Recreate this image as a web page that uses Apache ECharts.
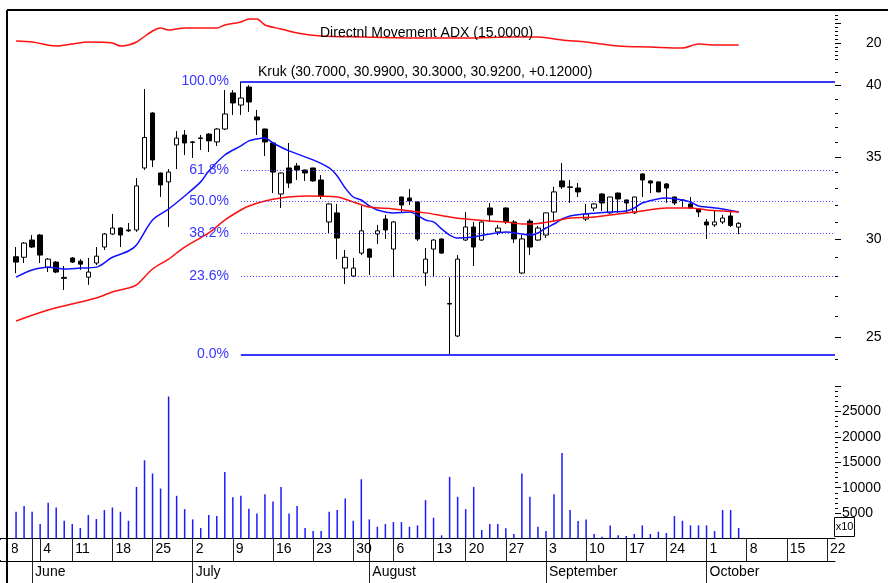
<!DOCTYPE html>
<html>
<head>
<meta charset="utf-8">
<script src="https://cdn.jsdelivr.net/npm/echarts@6/dist/echarts.min.js"></script>
<style>
  html, body { margin: 0; padding: 0; background: #fff; }
  #chart { width: 888px; height: 583px; }
</style>
</head>
<body>
<div id="chart"></div>
<script>
// trading days, Warsaw session (Jun 7 and Aug 15 closed)
const tradingDays = [
  '2012-05-28','2012-05-29','2012-05-30','2012-05-31','2012-06-01',
  '2012-06-04','2012-06-05','2012-06-06','2012-06-08',
  '2012-06-11','2012-06-12','2012-06-13','2012-06-14','2012-06-15',
  '2012-06-18','2012-06-19','2012-06-20','2012-06-21','2012-06-22',
  '2012-06-25','2012-06-26','2012-06-27','2012-06-28','2012-06-29',
  '2012-07-02','2012-07-03','2012-07-04','2012-07-05','2012-07-06',
  '2012-07-09','2012-07-10','2012-07-11','2012-07-12','2012-07-13',
  '2012-07-16','2012-07-17','2012-07-18','2012-07-19','2012-07-20',
  '2012-07-23','2012-07-24','2012-07-25','2012-07-26','2012-07-27',
  '2012-07-30','2012-07-31','2012-08-01','2012-08-02','2012-08-03',
  '2012-08-06','2012-08-07','2012-08-08','2012-08-09','2012-08-10',
  '2012-08-13','2012-08-14','2012-08-16','2012-08-17',
  '2012-08-20','2012-08-21','2012-08-22','2012-08-23','2012-08-24',
  '2012-08-27','2012-08-28','2012-08-29','2012-08-30','2012-08-31',
  '2012-09-03','2012-09-04','2012-09-05','2012-09-06','2012-09-07',
  '2012-09-10','2012-09-11','2012-09-12','2012-09-13','2012-09-14',
  '2012-09-17','2012-09-18','2012-09-19','2012-09-20','2012-09-21',
  '2012-09-24','2012-09-25','2012-09-26','2012-09-27','2012-09-28',
  '2012-10-01','2012-10-02','2012-10-03','2012-10-04','2012-10-05',
  '2012-10-08','2012-10-09','2012-10-10','2012-10-11','2012-10-12',
  '2012-10-15','2012-10-16','2012-10-17','2012-10-18','2012-10-19',
  '2012-10-22','2012-10-23'
];
const firstBar = 2; // first day with a candle (May 30)

const openVals = [
  29.05,29.02,29.97,30.25,28.49,28.76,27.95,28.98,28.81,27.96,28.71,29.58,30.31,30.65,30.54,30.54,
  34.29,38.00,33.97,33.41,35.80,36.47,36.00,36.27,36.53,36.00,36.88,39.45,38.57,39.89,37.72,36.88,
  35.93,32.66,34.29,34.42,34.16,34.29,33.53,31.00,31.53,28.44,28.02,29.25,29.47,30.31,31.17,29.47,
  32.48,32.42,32.18,28.18,29.47,30.03,26.59,25.05,29.97,30.71,29.97,31.82,30.43,31.82,31.00,28.18,
  31.05,29.97,30.25,31.58,33.47,33.10,33.03,31.17,31.82,32.66,31.53,32.72,32.30,31.53,33.91,33.47,
  33.41,33.28,32.48,32.30,32.06,31.76,31.00,30.83,31.00,31.35,30.70
];
const highVals = [
  29.58,29.86,30.25,30.31,28.98,28.81,28.55,29.03,28.92,28.98,29.58,30.37,31.47,30.70,30.94,33.65,
  39.74,38.05,34.00,34.22,36.74,36.81,36.07,36.47,36.60,36.95,39.67,39.67,40.30,40.04,38.22,36.90,
  35.95,34.00,35.93,34.61,34.20,34.30,33.84,32.10,32.06,29.42,28.98,31.94,29.50,30.83,31.41,31.05,
  32.50,32.97,32.20,29.53,30.03,30.05,27.96,29.14,31.58,31.00,31.05,32.12,30.83,31.85,31.11,30.25,
  31.17,30.77,31.55,33.10,34.61,33.53,33.34,32.06,32.10,32.72,32.50,32.75,32.32,32.50,33.95,33.50,
  33.43,33.34,32.50,32.32,32.48,31.78,31.17,31.70,31.41,31.70,30.99
];
const lowVals = [
  28.17,28.71,29.53,28.71,28.23,28.17,27.30,28.71,28.34,27.56,28.60,29.42,30.25,29.58,30.43,30.43,
  34.16,34.35,32.48,30.71,34.22,35.13,34.94,35.46,35.33,35.73,36.81,37.86,37.86,38.08,36.47,35.07,
  32.72,31.82,33.03,33.53,33.47,33.41,32.36,30.37,28.92,27.61,27.96,29.14,28.07,29.75,30.03,27.96,
  31.53,32.00,29.92,27.51,27.96,29.20,24.20,25.00,29.92,28.55,29.92,31.00,30.25,30.88,29.80,28.12,
  29.14,29.92,30.08,31.00,32.97,32.12,32.48,31.05,31.64,31.64,31.47,31.53,31.53,31.47,32.48,32.72,
  32.77,32.12,32.00,31.88,31.76,31.29,30.03,30.71,30.88,30.71,30.30
];
const closeVals = [
  28.76,29.80,29.58,29.14,28.92,28.23,27.90,28.76,28.65,28.23,29.08,30.31,30.65,30.25,30.49,33.16,
  36.30,34.81,33.22,34.03,36.26,35.93,35.97,36.24,36.07,36.88,37.93,38.72,39.08,38.79,37.51,36.00,
  34.03,33.97,33.34,34.16,33.97,33.47,32.54,32.06,30.08,29.02,28.44,30.49,29.02,30.49,30.54,31.00,
  32.00,32.24,30.03,28.92,29.97,29.25,26.62,28.92,30.71,29.58,31.00,31.41,30.65,31.00,30.03,30.03,
  29.58,30.65,31.53,32.79,33.10,33.07,32.79,31.47,32.06,32.12,32.48,32.36,32.12,32.48,33.53,33.34,
  32.79,33.03,32.12,32.28,31.82,31.58,30.83,31.00,31.23,30.80,30.92
];
// volume, in tens of shares (axis shows x10)
const volumeVals = [
  5250,6370,5250,2840,7020,6100,3490,2840,2060,4610,3820,5590,6100,5250,3490,10150,
  15390,12780,9830,27930,8390,5780,3760,2060,4610,4410,13100,8130,8390,5840,4930,8720,
  7290,10150,4930,6370,2060,1470,1470,5250,5590,7870,3490,11660,3760,2320,2840,3230,
  3230,2320,2580,7550,4080,620,12120,8200,5780,10150,1670,2840,2840,2000,880,12780,
  8200,2320,1470,8720,16820,5590,3430,3760,880,350,2580,620,490,880,2580,880,
  1340,1080,4410,3490,2580,2580,2580,1470,5590,5590,2060
];
// moving averages: [day index, price]
const maShort = [
  [2,27.96],[4,28.34],[6,28.49],[8,28.39],[10,28.44],[12,28.49],[14,29.02],[16,29.36],[17,29.69],
  [19,31.11],[21,31.76],[23,32.54],[25,33.41],[26,34.09],[28,35.13],[30,35.73],[31,36.07],[32,36.2],
  [33,36.26],[34,35.93],[36,35.4],[39,34.81],[41,34.29],[42,33.78],[43,33.03],[44,32.48],[45,32.3],
  [46,31.94],[47,31.7],[49,31.53],[51,31.58],[53,31.11],[54,31.0],[55,30.6],[56,30.25],[57,30.08],
  [59,30.14],[61,30.31],[63,30.43],[65,30.31],[66,30.25],[67,30.37],[68,30.65],[69,30.88],[70,31.17],
  [71,31.35],[73,31.47],[76,31.58],[78,31.64],[79,31.82],[80,32.12],[83,32.42],[85,32.3],[86,32.18],
  [87,31.94],[88,31.88],[90,31.76],[92,31.58]
];
const maLong = [
  [2,25.76],[6,26.3],[12,26.89],[14,27.2],[16,27.4],[17,27.56],[19,28.39],[21,28.92],[23,29.58],
  [26,30.37],[28,31.11],[30,31.7],[31,31.94],[33,32.24],[35,32.42],[38,32.54],[42,32.48],[44,32.18],
  [46,31.88],[49,31.76],[53,31.53],[56,31.29],[58,31.17],[61,31.05],[63,31.0],[65,30.88],[67,30.91],
  [69,31.05],[71,31.23],[74,31.29],[77,31.47],[80,31.64],[83,31.82],[86,31.82],[88,31.7],[90,31.64],
  [92,31.58]
];
const adxPts = [
  [2,21],[4,20.5],[7,18.5],[9,19.5],[11,20.5],[14,20],[15,18.5],[16,19],[17,20.5],[19,26],[20,27.5],
  [21,26.5],[23,27.5],[27,27.5],[28,29],[30,30.5],[31,32],[32,32],[33,29],[35,27],[37,25],[40,23.5],
  [45,23],[52,22.5],[58,22.5],[64,23],[67,23],[70,21.5],[73,20.5],[77,18.5],[81,18],[85,17.5],
  [87,19.5],[89,19],[92,19]
];

// Fibonacci retracement between the July high and the August low
const fibHigh = 40.3, fibLow = 24.2, fibStartDay = 30;
const fibRatios = [0, 0.236, 0.382, 0.5, 0.618, 1];

const priceLabels = [25, 30, 35, 40];
const priceMinor = [24,26,27,28,29,31,32,33,34,36,37,38,39,41];
const volumeLabels = [5000, 10000, 15000, 20000, 25000];
const adxLabels = [20];
const monthNames = ['January','February','March','April','May','June','July','August',
  'September','October','November','December'];

const PRICE_MIN = 23.42, PRICE_MAX = 41.8;
const FIB_BLUE = '#3737ff';
const FONT = 'Liberation Sans, Arial, sans-serif';

const isMonday = v => new Date(v + 'T00:00:00Z').getUTCDay() === 1;
const isMonthStart = i => i > 0 && tradingDays[i].slice(5, 7) !== tradingDays[i - 1].slice(5, 7);

const candleData = tradingDays.map((d, i) => {
  const k = i - firstBar;
  if (k < 0 || k >= openVals.length) return '-';
  return [openVals[k], closeVals[k], lowVals[k], highVals[k]];
});
const volumeData = tradingDays.map((d, i) => {
  const k = i - firstBar;
  return (k < 0 || k >= volumeVals.length) ? '-' : volumeVals[k];
});

const lastK = openVals.length - 1;
const fmt4 = v => v.toFixed(4);
const change = closeVals[lastK] - closeVals[lastK - 1];
const krukLabel = 'Kruk (' + fmt4(openVals[lastK]) + ', ' + fmt4(highVals[lastK]) + ', ' +
  fmt4(lowVals[lastK]) + ', ' + fmt4(closeVals[lastK]) + ', ' + (change >= 0 ? '+' : '') +
  change.toFixed(5) + ')';

const fibLines = fibRatios.map(r => {
  const lvl = fibLow + r * (fibHigh - fibLow);
  const solid = r === 0 || r === 1;
  return [
    { coord: [tradingDays[fibStartDay], lvl], name: (r * 100).toFixed(1) + '%',
      lineStyle: { color: FIB_BLUE, width: solid ? 2 : 1, type: solid ? 'solid' : [1, 2] } },
    { coord: [tradingDays[tradingDays.length - 1], lvl] }
  ];
});

const gridBase = { left: 0, right: 53, containLabel: false, outerBoundsMode: 'none' };
const hiddenX = idx => ({ gridIndex: idx, type: 'category', data: tradingDays, boundaryGap: false, show: false });
const tickAxis = (grid, extra) => Object.assign({
  gridIndex: grid, type: 'value', position: 'right',
  axisLine: { show: false }, splitLine: { show: false },
  axisTick: { show: true, inside: false, length: 4, lineStyle: { color: '#000' } },
  axisLabel: { show: false }
}, extra);

const lnMin = Math.log(PRICE_MIN), lnMax = Math.log(PRICE_MAX);

const chart = echarts.init(document.getElementById('chart'));
const option = {
  animation: false,
  textStyle: { fontFamily: FONT },
  grid: [
    Object.assign({ top: 12, height: 48 }, gridBase),
    Object.assign({ top: 62, height: 310 }, gridBase),
    Object.assign({ top: 386, height: 152.5 }, gridBase)
  ],
  xAxis: [
    hiddenX(0),
    hiddenX(1),
    {
      gridIndex: 2, type: 'category', data: tradingDays, boundaryGap: false, position: 'bottom',
      axisLine: { show: true, onZero: false, lineStyle: { color: '#000', width: 1 } },
      axisTick: { show: true, interval: (i, v) => isMonday(v) || isMonthStart(i), length: 23,
        lineStyle: { color: '#222', width: 1 } },
      axisLabel: { show: true, interval: (i, v) => isMonday(v), formatter: v => String(+v.slice(8)),
        align: 'left', padding: [0, 0, 0, 3], margin: 4, color: '#000', fontSize: 14, fontFamily: FONT },
      splitLine: { show: false }
    },
    {
      gridIndex: 2, type: 'category', data: tradingDays, boundaryGap: false, position: 'bottom', offset: 23,
      axisLine: { show: true, onZero: false, lineStyle: { color: '#000', width: 1 } },
      axisTick: { show: true, interval: i => isMonthStart(i), length: 22, lineStyle: { color: '#222', width: 1 } },
      axisLabel: { show: true, interval: i => isMonthStart(i), formatter: v => monthNames[+v.slice(5, 7) - 1],
        align: 'left', padding: [0, 0, 0, 3], margin: 4, color: '#000', fontSize: 14, fontFamily: FONT },
      splitLine: { show: false }
    }
  ],
  yAxis: [
    // ADX panel
    tickAxis(0, { min: 11.5, max: 35.5,
      axisTick: { show: true, length: 3, customValues: [12,14,16,18,22,24,26,28,32,34], lineStyle: { color: '#000' } } }),
    tickAxis(0, { min: 11.5, max: 35.5,
      axisTick: { show: true, length: 6, customValues: [20, 30], lineStyle: { color: '#000' } },
      axisLabel: { show: true, customValues: adxLabels, margin: 31, color: '#000', fontSize: 14, fontFamily: FONT } }),
    // price panel, log scale for the marks
    { gridIndex: 1, type: 'log', logBase: Math.E, min: PRICE_MIN, max: PRICE_MAX, show: false },
    // same scale in ln units, used only for the tick marks and labels
    tickAxis(1, { min: lnMin, max: lnMax,
      axisTick: { show: true, length: 6, customValues: priceLabels.map(Math.log), lineStyle: { color: '#000' } },
      axisLabel: { show: true, customValues: priceLabels.map(Math.log), formatter: v => String(Math.round(Math.exp(v))),
        margin: 31, color: '#000', fontSize: 14, fontFamily: FONT } }),
    tickAxis(1, { min: lnMin, max: lnMax,
      axisTick: { show: true, length: 3, customValues: priceMinor.map(Math.log), lineStyle: { color: '#000' } } }),
    // volume panel
    tickAxis(2, { min: 0, max: 30000,
      axisTick: { show: true, length: 6, customValues: [5000,10000,15000,20000,25000,30000], lineStyle: { color: '#000' } },
      axisLabel: { show: true, customValues: volumeLabels, formatter: v => String(v),
        margin: 7, color: '#000', fontSize: 14, fontFamily: FONT } }),
    tickAxis(2, { min: 0, max: 30000,
      axisTick: { show: true, length: 3,
        customValues: Array.from({ length: 29 }, (_, i) => (i + 1) * 1000), lineStyle: { color: '#000' } } })
  ],
  series: [
    {
      name: 'ADX', type: 'line', xAxisIndex: 0, yAxisIndex: 0, data: adxPts, smooth: 0.3,
      symbol: 'none', lineStyle: { color: '#ff1010', width: 1.5 }, silent: true
    },
    {
      name: 'Kruk', type: 'candlestick', xAxisIndex: 1, yAxisIndex: 2, data: candleData, barWidth: 5,
      itemStyle: { color: '#fff', color0: '#000', borderColor: '#000', borderColor0: '#000', borderWidth: 1 },
      silent: true,
      markLine: {
        silent: true, symbol: 'none', animation: false,
        label: { show: true, position: 'start', distance: 12, formatter: p => p.name,
          color: FIB_BLUE, fontSize: 14, fontFamily: FONT },
        emphasis: { disabled: true },
        data: fibLines
      }
    },
    {
      name: 'MA short', type: 'line', xAxisIndex: 1, yAxisIndex: 2, data: maShort, smooth: 0.3,
      symbol: 'none', lineStyle: { color: '#1010ff', width: 1.5 }, silent: true
    },
    {
      name: 'MA long', type: 'line', xAxisIndex: 1, yAxisIndex: 2, data: maLong, smooth: 0.3,
      symbol: 'none', lineStyle: { color: '#ff1010', width: 1.5 }, silent: true
    },
    {
      name: 'Volume', type: 'bar', xAxisIndex: 2, yAxisIndex: 5, data: volumeData, barWidth: 1.5,
      itemStyle: { color: '#1a1aff' }, silent: true
    }
  ],
  graphic: [
    { type: 'rect', z: 50, shape: { x: 0, y: 540, width: 12, height: 20 }, style: { fill: '#fff' } },
    { type: 'line', z: 51, shape: { x1: 7, y1: 10, x2: 888, y2: 10 }, style: { stroke: '#000', lineWidth: 2 } },
    { type: 'line', z: 51, shape: { x1: 7, y1: 10, x2: 7, y2: 583 }, style: { stroke: '#000', lineWidth: 2 } },
    { type: 'text', z: 52, style: { x: 320, y: 33, text: 'Directnl Movement ADX (15.0000)', fill: '#000',
      font: '14px ' + FONT, verticalAlign: 'middle' } },
    { type: 'text', z: 52, style: { x: 258, y: 72, text: krukLabel, fill: '#000',
      font: '14px ' + FONT, verticalAlign: 'middle' } },
    { type: 'rect', z: 52, shape: { x: 834.5, y: 517.5, width: 20, height: 19 },
      style: { fill: '#fff', stroke: '#000', lineWidth: 1 } },
    { type: 'text', z: 53, style: { x: 844.5, y: 527, text: 'x10', fill: '#000', font: '11px ' + FONT,
      align: 'center', verticalAlign: 'middle' } }
  ]
};
chart.setOption(option);
</script>
</body>
</html>
